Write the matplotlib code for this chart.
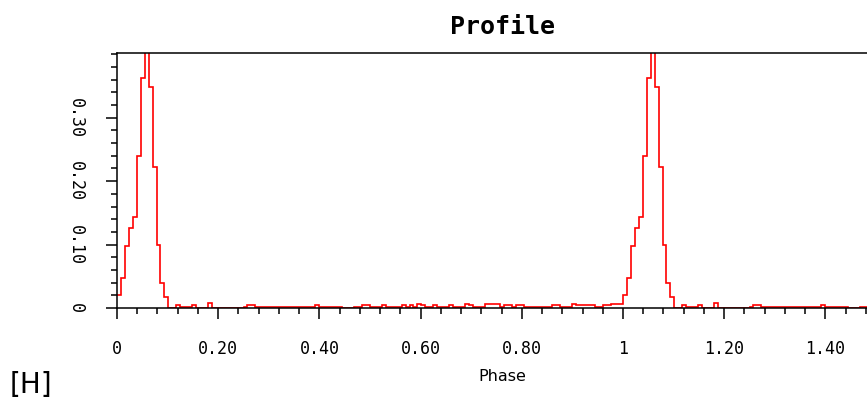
import numpy as np
import matplotlib.pyplot as plt
from matplotlib.ticker import MultipleLocator, FixedLocator

# profile, 128 phase bins (one cycle)
nbins = 128
peak = [0.020, 0.047, 0.097, 0.126, 0.144, 0.239, 0.363, 0.450,
        0.349, 0.223, 0.099, 0.039, 0.018]
base = [0.000, 0.000, 0.004, 0.001, 0.001, 0.001, 0.004, 0.000, 0.000, 0.000,
        0.008, 0.000, 0.000, 0.000, 0.000, 0.000, 0.000, 0.000, 0.000, 0.002,
        0.005, 0.005, 0.002, 0.002, 0.001, 0.001, 0.001, 0.001, 0.002, 0.001,
        0.001, 0.001, 0.001, 0.001, 0.001, 0.001, 0.001, 0.004, 0.001, 0.001,
        0.001, 0.001, 0.001, 0.001, 0.000, 0.000, 0.000, 0.002, 0.002, 0.004,
        0.004, 0.002, 0.002, 0.002, 0.004, 0.002, 0.002, 0.002, 0.002, 0.004,
        0.002, 0.004, 0.002, 0.007, 0.004, 0.001, 0.001, 0.004, 0.002, 0.002,
        0.002, 0.004, 0.002, 0.001, 0.001, 0.007, 0.005, 0.002, 0.002, 0.002,
        0.006, 0.006, 0.006, 0.006, 0.002, 0.004, 0.004, 0.002, 0.004, 0.004,
        0.002, 0.002, 0.002, 0.002, 0.002, 0.002, 0.002, 0.004, 0.004, 0.002,
        0.002, 0.002, 0.007, 0.005, 0.005, 0.005, 0.005, 0.005, 0.002, 0.002,
        0.004, 0.004, 0.006, 0.006, 0.007]
profile = np.array(peak + base)
ncycles = 2

xticks = [0, 0.2, 0.4, 0.6, 0.8, 1.0, 1.2, 1.4]
xticklabels = ['0', '0.20', '0.40', '0.60', '0.80', '1', '1.20', '1.40']
yticks = [0, 0.1, 0.2, 0.3]
yticklabels = ['0', '0.10', '0.20', '0.30']

fig = plt.figure(figsize=(8.67, 4.01), dpi=100)
# axes runs past the right edge of the picture (it was cropped)
ax = fig.add_axes([117/867, 1-308/401, 770/867, 255/401])

edges = np.arange(nbins*ncycles + 1) / nbins
ax.stairs(np.tile(profile, ncycles), edges, baseline=None, color='red', lw=1.2)

ax.set_xlim(0, 770/506)
ax.set_ylim(0, 0.402)

mono = 'DejaVu Sans Mono'
ax.xaxis.set_major_locator(FixedLocator(xticks))
ax.set_xticklabels(xticklabels, family=mono, fontsize=12)
ax.xaxis.set_minor_locator(MultipleLocator(0.04))
ax.yaxis.set_major_locator(FixedLocator(yticks))
ax.set_yticklabels(yticklabels, family=mono, fontsize=12, rotation=-90, va='center')
ax.yaxis.set_minor_locator(MultipleLocator(0.02))

ax.tick_params(which='major', length=8, width=1.1, pad=15)
ax.tick_params(which='minor', length=4, width=1.1)
for s in ax.spines.values():
    s.set_linewidth(1.1)
ax.spines['right'].set_visible(False)

ax.set_title('Profile', family=mono, fontweight='bold', fontsize=18, pad=14)
ax.set_xlabel('Phase', fontsize=11.5, labelpad=8)

fig.text(10/867, 1-393/401, '[H]', fontsize=20, va='baseline')

plt.savefig('out.png', dpi=100)
